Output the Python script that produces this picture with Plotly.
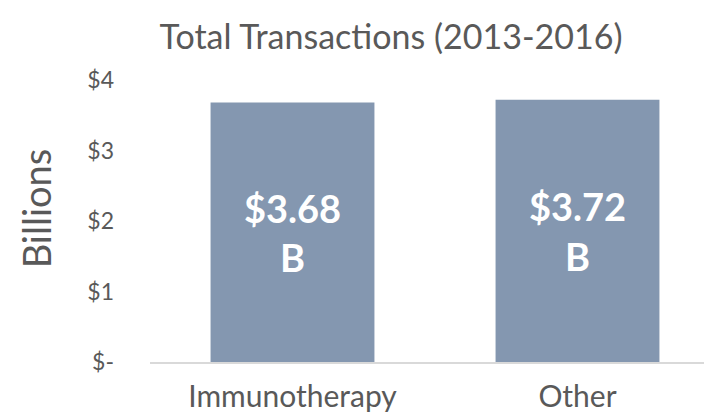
import plotly.graph_objects as go

categories = ["Immunotherapy", "Other"]
values = [3.68, 3.72]
labels = ["$3.68<br>B", "$3.72<br>B"]
tick_vals = [0, 1, 2, 3, 4]
tick_text = ["$-", "$1", "$2", "$3", "$4"]

FONT = "Lato"
GREY = "#595959"

fig = go.Figure(go.Bar(
    x=categories, y=values, text=labels,
    textposition="inside", insidetextanchor="middle",
    textfont=dict(family=FONT, size=38, color="white", weight="bold"),
    marker=dict(color="#8497B0", line=dict(width=0)),
    width=0.575, hoverinfo="skip",
))

fig.update_layout(
    width=712, height=414,
    margin=dict(l=142, r=0, t=72, b=60),
    paper_bgcolor="white", plot_bgcolor="white",
    showlegend=False,
    uniformtext=dict(mode=False),
    title=dict(text="Total Transactions (2013-2016)", x=383/712, xanchor="center",
               y=1 - 29/414, yanchor="middle",
               font=dict(family=FONT, size=34, color=GREY)),
    font=dict(family=FONT, color=GREY),
)
fig.update_xaxes(
    range=[-0.5, 1.5], showgrid=False, showline=True, linecolor="#D9D9D9", linewidth=1.5,
    ticks="", tickfont=dict(family=FONT, size=30, color=GREY), ticklabelstandoff=7,
)
fig.update_yaxes(
    range=[0, 4], tickvals=tick_vals, ticktext=tick_text, showgrid=False,
    zeroline=False, showline=False, ticks="",
    tickfont=dict(family=FONT, size=23, color=GREY), ticklabelstandoff=35,
)
fig.add_annotation(
    text="Billions", xref="paper", yref="paper", x=-(142 - 28) / 570, y=0.545,
    xanchor="center", yanchor="middle", textangle=-90, showarrow=False,
    font=dict(family=FONT, size=38, color=GREY),
)

fig.write_html("out.html")
